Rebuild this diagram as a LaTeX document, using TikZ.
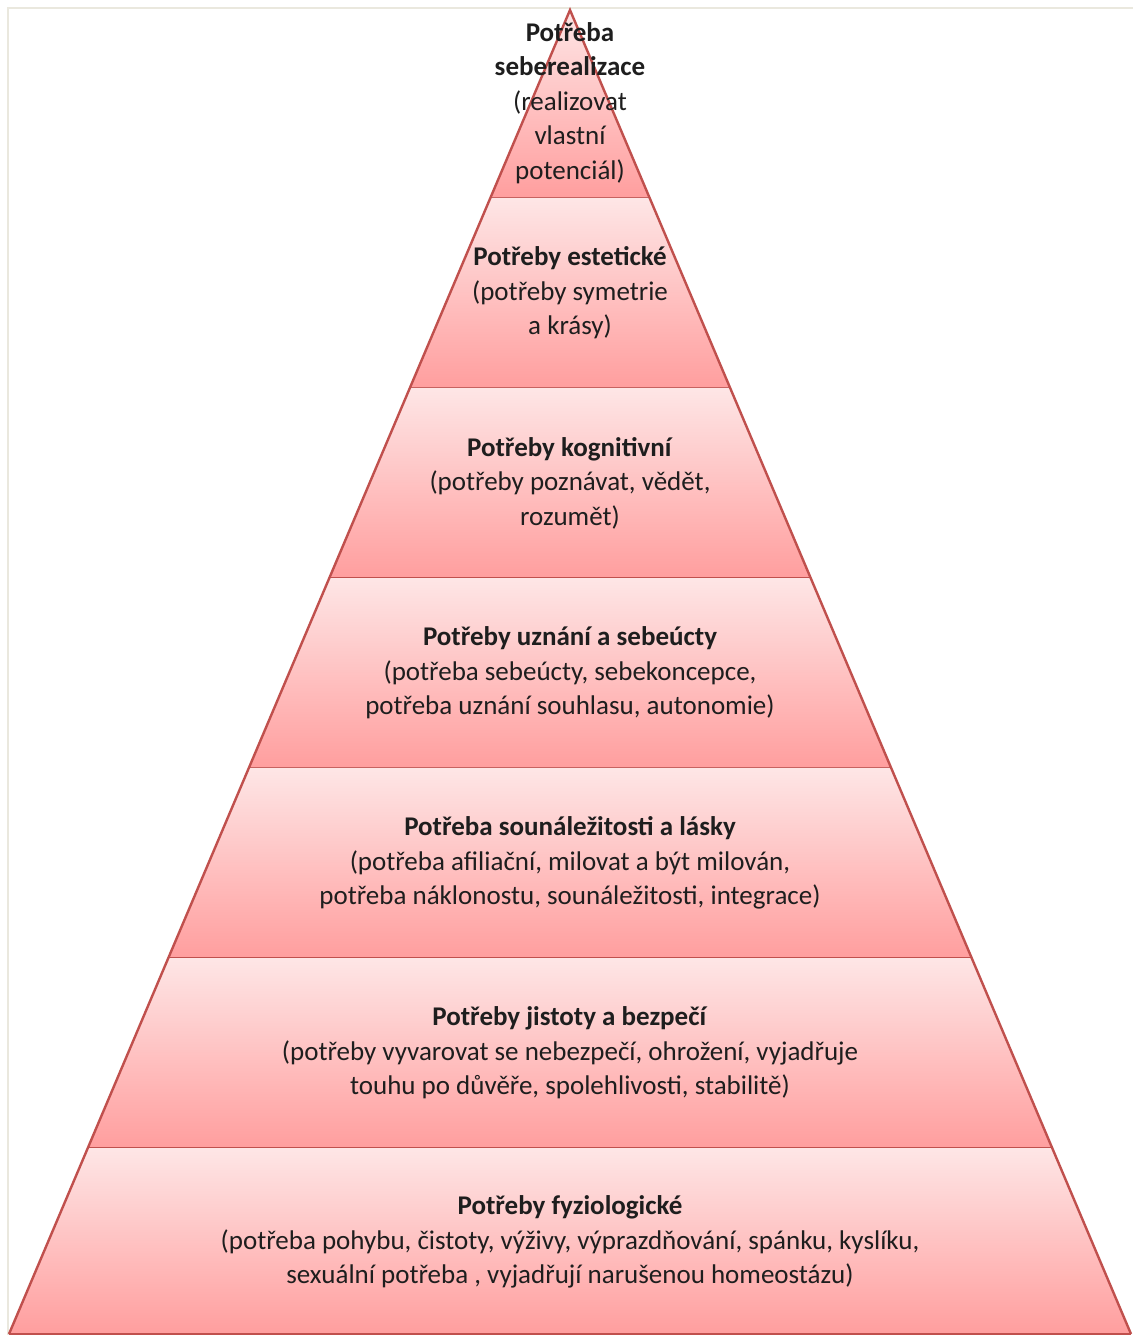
\documentclass[tikz,border=0pt]{standalone}
\usepackage{fontspec}
\setmainfont{Carlito}
\usetikzlibrary{calc}
\definecolor{tierTop}{RGB}{254,230,230}
\definecolor{tierBot}{RGB}{255,158,158}
\definecolor{tierEdge}{RGB}{192,80,77}
\definecolor{frameGray}{RGB}{234,232,222}
\definecolor{txtDark}{RGB}{30,30,30}

\begin{document}
\begin{tikzpicture}[
  x=1pt,y=-1pt,
  tier/.style={top color=tierTop,bottom color=tierBot},
  tieredge/.style={draw=tierEdge,line width=2.4pt,line join=miter},
  lbl/.style={align=center,text=txtDark,inner sep=0pt,
              font=\fontsize{27}{34.5}\selectfont},
  frame/.style={draw=frameGray,line width=2.5pt}
]
\useasboundingbox (0,0) rectangle (1133,1335);

% ==========  Outer frame (cut off right and bottom)  ==========
\draw[frame] (8,1335) -- (8,8) -- (1133,8);

% ==========  Pyramid corners  ==========
\coordinate (apex) at (570,10);
\coordinate (bl) at (9,1334);
\coordinate (br) at (1131,1334);

% ==========  Tiers, top to bottom  ==========
\foreach \ya/\yb in {10/198,198/388,388/578,578/768,768/958,958/1148,1148/1334}{
  \shade[tier]
    ($(apex)!{(\ya-10)/1324}!(bl)$) -- ($(apex)!{(\yb-10)/1324}!(bl)$)
    -- ($(apex)!{(\yb-10)/1324}!(br)$) -- ($(apex)!{(\ya-10)/1324}!(br)$) -- cycle;
  \draw[tieredge]
    ($(apex)!{(\yb-10)/1324}!(bl)$) -- ($(apex)!{(\yb-10)/1324}!(br)$);
}
\draw[tieredge] (bl) -- (apex) -- (br);

% ==========  Labels  ==========
\node[lbl] (t1) at (570,103)
  {\textbf{Potřeba}\\\textbf{seberealizace}\\(realizovat\\vlastní\\potenciál)};
\node[lbl] (t2) at (570,293)
  {\textbf{Potřeby estetické}\\(potřeby symetrie\\a krásy)};
\node[lbl] (t3) at (570,483)
  {\textbf{Potřeby kognitivní}\\(potřeby poznávat, vědět,\\rozumět)};
\node[lbl] (t4) at (570,673)
  {\textbf{Potřeby uznání a sebeúcty}\\(potřeba sebeúcty, sebekoncepce,\\potřeba uznání souhlasu, autonomie)};
\node[lbl] (t5) at (570,863)
  {\textbf{Potřeba sounáležitosti a lásky}\\(potřeba afiliační, milovat a být milován,\\potřeba náklonostu, sounáležitosti, integrace)};
\node[lbl] (t6) at (570,1053)
  {\textbf{Potřeby jistoty a bezpečí}\\(potřeby vyvarovat se nebezpečí, ohrožení, vyjadřuje\\touhu po důvěře, spolehlivosti, stabilitě)};
\node[lbl] (t7) at (570,1242)
  {\textbf{Potřeby fyziologické}\\(potřeba pohybu, čistoty, výživy, výprazdňování, spánku, kyslíku,\\sexuální potřeba , vyjadřují narušenou homeostázu)};

\end{tikzpicture}
\end{document}
